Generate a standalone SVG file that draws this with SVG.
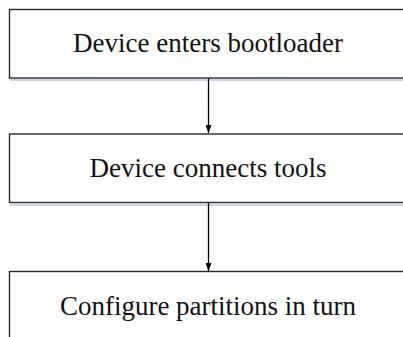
<svg xmlns="http://www.w3.org/2000/svg" width="403" height="337" viewBox="0 0 403 337">
<style>
.box{fill:#fff;stroke:#2a2a2a;stroke-width:1.4}
.shadow{fill:none;stroke:#c9d6ea;stroke-width:2}
.lbl{font-family:"Liberation Serif","Times New Roman",serif;font-size:27px;fill:#111;text-anchor:middle}
.edge{stroke:#000;stroke-width:1.3;fill:none}
</style>
<defs>
<marker id="ah" markerWidth="8" markerHeight="6" refX="8" refY="3" orient="auto" markerUnits="userSpaceOnUse">
<path d="M0,0 L8,3 L0,6 Z" fill="#000"/>
</marker>
</defs>
<g id="n1">
<line class="shadow" x1="10" y1="80" x2="403" y2="80"/>
<rect class="box" x="9.5" y="9.5" width="400" height="68.5"/>
<text class="lbl" x="208" y="52">Device enters bootloader</text>
</g>
<g id="n2">
<line class="shadow" x1="10" y1="205" x2="403" y2="205"/>
<rect class="box" x="9.5" y="134" width="400" height="68.5"/>
<text class="lbl" x="208" y="177">Device connects tools</text>
</g>
<g id="n3">
<rect class="box" x="9.5" y="271.5" width="400" height="70"/>
<text class="lbl" x="208" y="315">Configure partitions in turn</text>
</g>
<g id="edges">
<line class="edge" x1="208.5" y1="78.5" x2="208.5" y2="133" marker-end="url(#ah)"/>
<line class="edge" x1="208.5" y1="203" x2="208.5" y2="271" marker-end="url(#ah)"/>
</g>
</svg>
